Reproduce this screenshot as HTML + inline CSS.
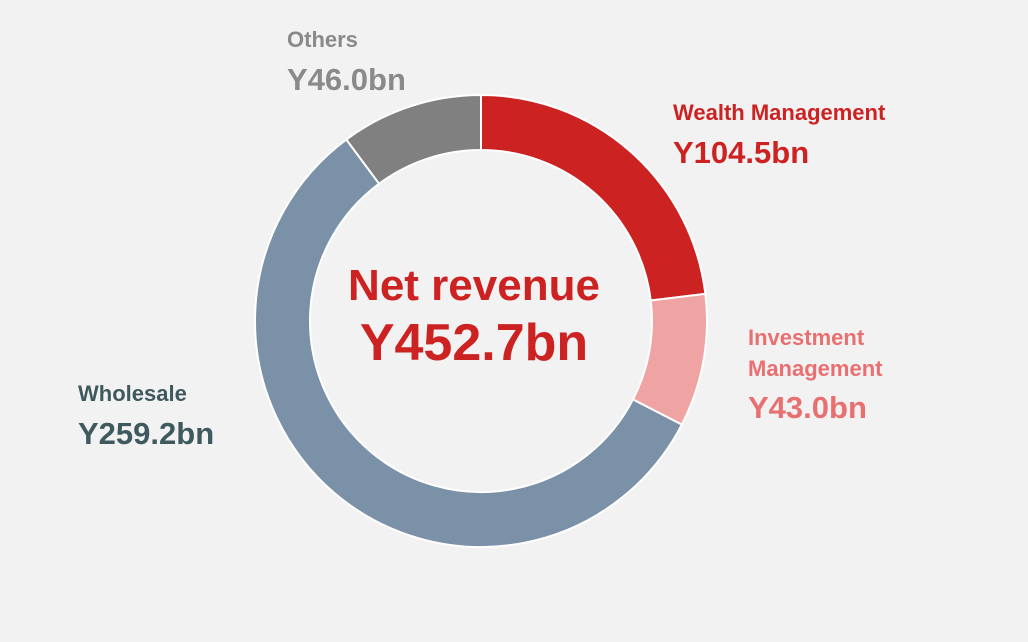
<!DOCTYPE html>
<html><head><meta charset="utf-8"><style>
body{margin:0;background:#f2f2f2;width:1028px;height:637px;overflow:hidden;font-family:"Liberation Sans",Arial,sans-serif}
</style></head><body>
<svg id="chart" width="1028" height="637" viewBox="0 0 1028 637">
<rect x="0" y="0" width="1028" height="637" fill="#f2f2f2"/>
<g id="slices"></g>
<g font-weight="bold" fill="#cc2222" text-anchor="middle">
<text x="474" y="300" font-size="44">Net revenue</text>
<text x="474" y="360" font-size="52">Y452.7bn</text>
</g>
<g font-weight="bold">
<text x="287" y="47" font-size="22" fill="#8a8a8a">Others</text>
<text x="287" y="90" font-size="31" fill="#8a8a8a">Y46.0bn</text>
<text x="673" y="120" font-size="22" fill="#cc2222">Wealth Management</text>
<text x="673" y="163" font-size="31" fill="#cc2222">Y104.5bn</text>
<text x="748" y="345" font-size="22" fill="#e87070">Investment</text>
<text x="748" y="376" font-size="22" fill="#e87070">Management</text>
<text x="748" y="418" font-size="31" fill="#e87070">Y43.0bn</text>
<text x="78" y="401" font-size="22" fill="#3f5a5e">Wholesale</text>
<text x="78" y="444" font-size="31" fill="#3f5a5e">Y259.2bn</text>
</g>
</svg>
<script>
const categories = ["Wealth Management", "Investment Management", "Wholesale", "Others"];
const values = [104.5, 43.0, 259.2, 46.0];
const colors = ["#cc2222", "#f0a3a3", "#7a91a8", "#808080"];
const cx = 481, cy = 321, rOut = 226, rIn = 171;
const total = values.reduce((a, b) => a + b, 0);
function angle(v) { return v / total * 2 * Math.PI; }
function pt(a, r) { return [cx + r * Math.sin(a), cy - r * Math.cos(a)]; }
const g = document.getElementById('slices');
let start = 0;
values.forEach((v, i) => {
  const end = start + angle(v);
  const large = end - start > Math.PI ? 1 : 0;
  const [x1, y1] = pt(start, rOut), [x2, y2] = pt(end, rOut);
  const [x3, y3] = pt(end, rIn), [x4, y4] = pt(start, rIn);
  const p = document.createElementNS('http://www.w3.org/2000/svg', 'path');
  p.setAttribute('d', `M${x1},${y1} A${rOut},${rOut} 0 ${large} 1 ${x2},${y2} L${x3},${y3} A${rIn},${rIn} 0 ${large} 0 ${x4},${y4} Z`);
  p.setAttribute('fill', colors[i]);
  p.setAttribute('stroke', '#ffffff');
  p.setAttribute('stroke-width', '2');
  
  
  g.appendChild(p);
  start = end;
});
</script>
</body></html>
